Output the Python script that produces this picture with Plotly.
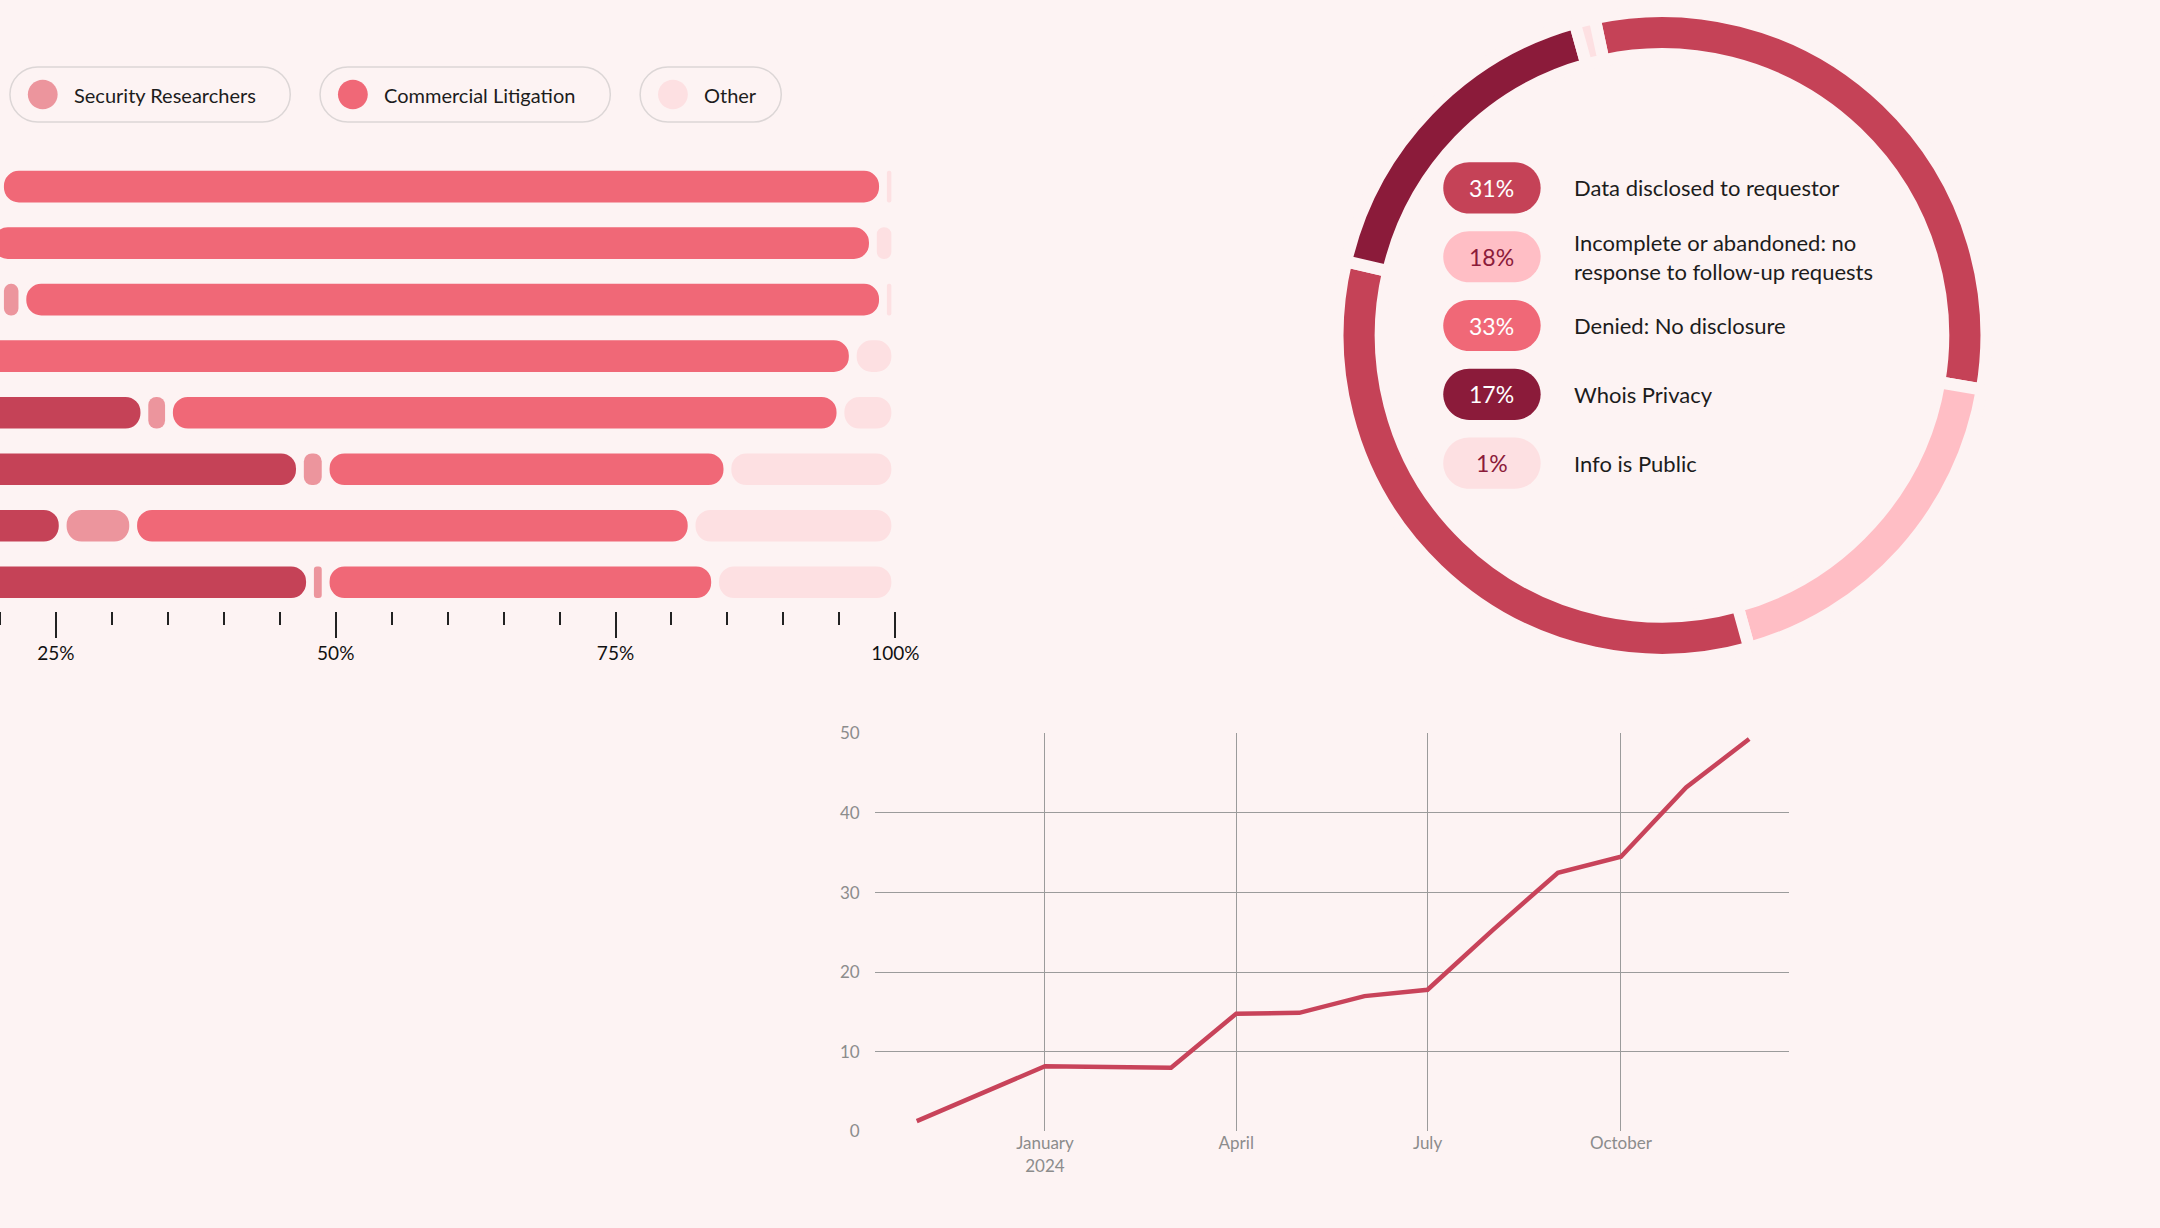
import numpy as np
import plotly.graph_objects as go

W, H = 2160, 1228
BG = "#fdf3f3"
FONT = "Lato, 'Open Sans', sans-serif"
INK = "#1c1c1c"

# ---------------- Data: stacked percentage bars (rows top -> bottom) ----------------
bar_rows = ["1", "2", "3", "4", "5", "6", "7", "8"]
law_enforcement = [18.0, 16.0, 20.0, 14.0, 32.9, 46.8, 25.6, 47.7]
security_researchers = [2.0, 3.0, 2.0, 3.0, 2.2, 2.3, 6.3, 1.4]
commercial_litigation = [78.9, 79.0, 76.9, 79.2, 60.0, 35.9, 49.9, 34.8]
other = [1.1, 2.0, 1.1, 3.8, 4.9, 15.0, 18.2, 16.1]
bar_tick_vals = [25, 50, 75, 100]
bar_tick_text = ["25%", "50%", "75%", "100%"]

# ---------------- Data: ring chart ----------------
ring_labels = ["Data disclosed to requestor",
               "Incomplete or abandoned: no response to follow-up requests",
               "Denied: No disclosure", "Whois Privacy", "Info is Public"]
ring_legend_text = ["Data disclosed to requestor",
                    "Incomplete or abandoned: no<br>response to follow-up requests",
                    "Denied: No disclosure", "Whois Privacy", "Info is Public"]
ring_values = [31, 18, 33, 17, 1]
ring_pct_text = ["31%", "18%", "33%", "17%", "1%"]

# ---------------- Data: line chart ----------------
line_dates = ["2023-11-01", "2024-01-01", "2024-03-01", "2024-04-01", "2024-05-01",
              "2024-06-01", "2024-07-01", "2024-08-01", "2024-09-01", "2024-10-01",
              "2024-11-01", "2024-12-01"]
line_values = [1.3, 8.2, 8.0, 14.8, 14.9, 17.0, 17.8, 25.3, 32.5, 34.5, 43.2, 49.3]
line_tick_vals = ["2024-01-01", "2024-04-01", "2024-07-01", "2024-10-01"]
line_tick_text = ["January<br>2024", "April", "July", "October"]

# ---------------- Styles ----------------
bar_series = [
    ("Law Enforcement", law_enforcement, "#c54257"),
    ("Security Researchers", security_researchers, "#ec959d"),
    ("Commercial Litigation", commercial_litigation, "#f06877"),
    ("Other", other, "#fde0e2"),
]
ring_colors = ["#c54257", "#ffbec5", "#c54257", "#8b1b3a", "#fde0e2"]
pill_fill = ["#c54257", "#ffbec5", "#f06877", "#8b1b3a", "#fde0e2"]
pill_font = ["white", "#8b1b3a", "white", "white", "#8b1b3a"]

fig = go.Figure()

# ---- stacked bars, each segment drawn as its own rounded pill
GAP = 0.7
starts = np.zeros(len(bar_rows))
for name, vals, color in bar_series:
    v = np.asarray(vals, dtype=float)
    fig.add_trace(go.Bar(
        y=bar_rows, x=np.maximum(v - GAP, 0.1), base=starts + GAP / 2,
        orientation="h", width=0.56,
        marker=dict(color=color, cornerradius="50%", line=dict(width=0)),
        name=name, showlegend=False, customdata=v,
        hovertemplate=name + ": %{customdata:.1f}%<extra></extra>",
        xaxis="x", yaxis="y"))
    starts = starts + v

# ---- ring
RING_DOM_X = [0.6213, 0.9269]
RING_DOM_Y = [0.4625, 1.0]
fig.add_trace(go.Pie(
    values=ring_values, labels=ring_labels, hole=0.867, sort=False,
    direction="clockwise", rotation=-12, textinfo="none", showlegend=False,
    marker=dict(colors=ring_colors, line=dict(color=BG, width=12)),
    domain=dict(x=RING_DOM_X, y=RING_DOM_Y),
    hovertemplate="%{label}: %{percent}<extra></extra>"))

# ---- line chart
fig.add_trace(go.Scatter(
    x=line_dates, y=line_values, mode="lines",
    line=dict(color="#c8435a", width=4.5), showlegend=False,
    xaxis="x2", yaxis="y2"))

# ---------------- helpers for pill decorations ----------------
K = 0.5523


def pill_path(x0, y0, w, h):
    r = h / 2
    x1, y1 = x0 + w, y0 + h
    yc = y0 + r
    segs = [
        ("M", [(x0 + r, y0)]),
        ("L", [(x1 - r, y0)]),
        ("C", [(x1 - r + K * r, y0), (x1, yc - K * r), (x1, yc)]),
        ("C", [(x1, yc + K * r), (x1 - r + K * r, y1), (x1 - r, y1)]),
        ("L", [(x0 + r, y1)]),
        ("C", [(x0 + r - K * r, y1), (x0, yc + K * r), (x0, yc)]),
        ("C", [(x0, yc - K * r), (x0 + r - K * r, y0), (x0 + r, y0)]),
    ]
    s = ""
    for cmd, pts in segs:
        s += cmd + " ".join(f"{px / W:.5f},{1 - py / H:.5f}" for px, py in pts) + " "
    return s + "Z"


shapes = []
annotations = []

# ---- bar legend pills (Security Researchers, Commercial Litigation, Other)
legend_items = [
    ("Security Researchers", "#ec959d", 10, 282),
    ("Commercial Litigation", "#f06877", 322, 292),
    ("Other", "#fde0e2", 644, 142),
]
LY, LH = 57, 56
for text, col, x0, w in legend_items:
    shapes.append(dict(type="path", path=pill_path(x0, LY, w, LH), xref="paper", yref="paper",
                       line=dict(color="#dcd6d6", width=1.5), fillcolor="rgba(0,0,0,0)", layer="below"))
    shapes.append(dict(type="path", path=pill_path(x0 + 18, LY + 13, 30, 30), xref="paper", yref="paper",
                       line=dict(width=0), fillcolor=col, layer="below"))
    annotations.append(dict(text=text, x=(x0 + 62) / W, y=1 - (LY + LH / 2) / H, xref="paper", yref="paper",
                            xanchor="left", yanchor="middle", showarrow=False,
                            font=dict(size=20, color=INK, family=FONT)))

# ---- ring legend pills
row_y = [180, 250, 320, 390, 460]
PX, PW, PH = 1452, 98, 52
for i, y in enumerate(row_y):
    shapes.append(dict(type="path", path=pill_path(PX, y - PH / 2, PW, PH), xref="paper", yref="paper",
                       line=dict(width=0), fillcolor=pill_fill[i], layer="above"))
    annotations.append(dict(text=ring_pct_text[i], x=(PX + PW / 2) / W, y=1 - y / H, xref="paper",
                            yref="paper", xanchor="center", yanchor="middle", showarrow=False,
                            font=dict(size=23, color=pill_font[i], family=FONT)))
    annotations.append(dict(text=ring_legend_text[i], x=1582 / W, y=1 - y / H, xref="paper", yref="paper",
                            xanchor="left", yanchor="middle", align="left", showarrow=False,
                            font=dict(size=22, color=INK, family=FONT)))

fig.update_layout(
    width=W, height=H, autosize=False,
    margin=dict(l=0, r=0, t=0, b=0),
    paper_bgcolor=BG, plot_bgcolor="rgba(0,0,0,0)",
    font=dict(family=FONT, color=INK),
    barmode="overlay",
    showlegend=False,
    shapes=shapes, annotations=annotations,
    xaxis=dict(domain=[0.0, 0.4222], range=[20, 101], anchor="y",
               tickmode="array", tickvals=bar_tick_vals, ticktext=bar_tick_text,
               ticks="outside", ticklen=26, tickwidth=1.5, tickcolor="#222",
               minor=dict(dtick=5, tick0=0, ticks="outside", ticklen=13, tickwidth=1.5,
                          tickcolor="#222", showgrid=False),
               showgrid=False, zeroline=False, showline=False,
               tickfont=dict(size=19, color="#111", family=FONT)),
    yaxis=dict(domain=[0.5033, 0.8779], anchor="x", autorange="reversed",
               visible=False, showgrid=False, zeroline=False),
    xaxis2=dict(domain=[0.4074, 0.8333], anchor="y2", type="date",
                range=["2023-10-12", "2024-12-20"],
                tickmode="array", tickvals=line_tick_vals, ticktext=line_tick_text,
                showgrid=True, gridcolor="#9b9b9b", gridwidth=1, ticks="",
                zeroline=False, showline=False,
                tickfont=dict(size=17, color="#8c8c8c", family=FONT)),
    yaxis2=dict(domain=[0.0717, 0.4015], anchor="x2", range=[0, 50], dtick=10,
                showgrid=True, gridcolor="#9b9b9b", gridwidth=1, ticks="",
                zeroline=False, showline=False, ticklabelstandoff=14,
                tickfont=dict(size=17, color="#8c8c8c", family=FONT)),
)

fig.write_html("out.html", config={"displayModeBar": False},
               post_script="document.body.style.margin='0';document.body.style.background='%s';" % BG)
